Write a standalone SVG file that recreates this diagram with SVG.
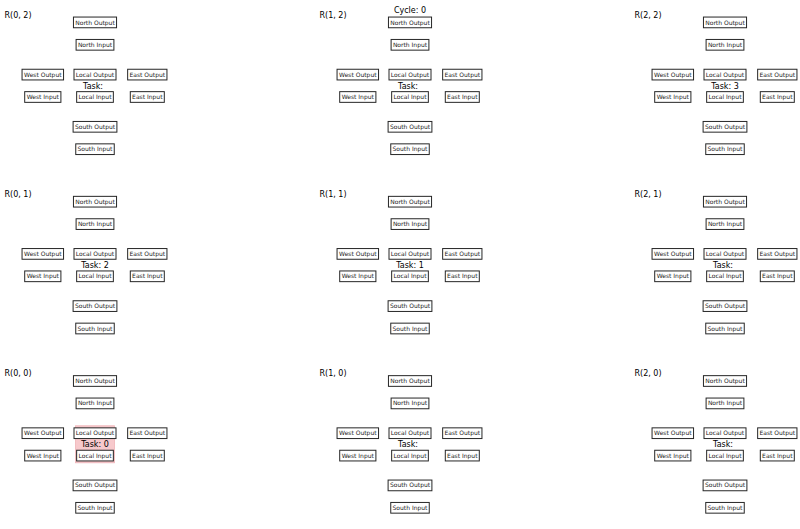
<svg xmlns="http://www.w3.org/2000/svg" width="800" height="529" viewBox="0 0 800 529">
<style>
.bg{fill:#ffffff}
.box{fill:#ffffff;stroke:#262626;stroke-width:1}
.bt{font-family:"DejaVu Sans",sans-serif;font-size:6px;fill:#1a1a1a;text-anchor:middle}
.lbl{font-family:"DejaVu Sans",sans-serif;font-size:8px;fill:#000000}
.task{font-family:"DejaVu Sans",sans-serif;font-size:8px;fill:#000000}
.tm{text-anchor:middle}
.hl{fill:#f7c9cc;stroke:#efb3b7;stroke-width:0.8}
</style>
<rect class="bg" x="0" y="0" width="800" height="529"/>
<text class="lbl tm" x="410" y="12.5">Cycle: 0</text>
<g id="connectors"/>

<g id="router-0-2" transform="translate(0,0)">
<text class="lbl" x="4.5" y="17.5">R(0, 2)</text>
<g id="r02-north-output"><rect class="box" x="73.45" y="17.05" width="43.1" height="10.7"/><text class="bt" x="95" y="24.5">North Output</text></g>
<g id="r02-north-input"><rect class="box" x="76.1" y="39.45" width="37.8" height="10.7"/><text class="bt" x="95" y="46.9">North Input</text></g>
<g id="r02-west-output"><rect class="box" x="22.05" y="69.25" width="41.5" height="10.7"/><text class="bt" x="42.8" y="76.7">West Output</text></g>
<g id="r02-local-output"><rect class="box" x="74" y="69.25" width="42" height="10.7"/><text class="bt" x="95" y="76.7">Local Output</text></g>
<g id="r02-east-output"><rect class="box" x="127.65" y="69.25" width="39.3" height="10.7"/><text class="bt" x="147.3" y="76.7">East Output</text></g>
<g id="r02-west-input"><rect class="box" x="24.7" y="91.65" width="36.2" height="10.7"/><text class="bt" x="42.8" y="99.1">West Input</text></g>
<g id="r02-local-input"><rect class="box" x="76.65" y="91.65" width="36.7" height="10.7"/><text class="bt" x="95" y="99.1">Local Input</text></g>
<g id="r02-east-input"><rect class="box" x="130.3" y="91.65" width="34" height="10.7"/><text class="bt" x="147.3" y="99.1">East Input</text></g>
<g id="r02-south-output"><rect class="box" x="73.1" y="121.45" width="43.8" height="10.7"/><text class="bt" x="95" y="128.9">South Output</text></g>
<g id="r02-south-input"><rect class="box" x="75.75" y="143.85" width="38.5" height="10.7"/><text class="bt" x="95" y="151.3">South Input</text></g>
<text class="task" x="83.1" y="88.5">Task:</text>
</g>

<g id="router-1-2" transform="translate(315,0)">
<text class="lbl" x="4.5" y="17.5">R(1, 2)</text>
<g id="r12-north-output"><rect class="box" x="73.45" y="17.05" width="43.1" height="10.7"/><text class="bt" x="95" y="24.5">North Output</text></g>
<g id="r12-north-input"><rect class="box" x="76.1" y="39.45" width="37.8" height="10.7"/><text class="bt" x="95" y="46.9">North Input</text></g>
<g id="r12-west-output"><rect class="box" x="22.05" y="69.25" width="41.5" height="10.7"/><text class="bt" x="42.8" y="76.7">West Output</text></g>
<g id="r12-local-output"><rect class="box" x="74" y="69.25" width="42" height="10.7"/><text class="bt" x="95" y="76.7">Local Output</text></g>
<g id="r12-east-output"><rect class="box" x="127.65" y="69.25" width="39.3" height="10.7"/><text class="bt" x="147.3" y="76.7">East Output</text></g>
<g id="r12-west-input"><rect class="box" x="24.7" y="91.65" width="36.2" height="10.7"/><text class="bt" x="42.8" y="99.1">West Input</text></g>
<g id="r12-local-input"><rect class="box" x="76.65" y="91.65" width="36.7" height="10.7"/><text class="bt" x="95" y="99.1">Local Input</text></g>
<g id="r12-east-input"><rect class="box" x="130.3" y="91.65" width="34" height="10.7"/><text class="bt" x="147.3" y="99.1">East Input</text></g>
<g id="r12-south-output"><rect class="box" x="73.1" y="121.45" width="43.8" height="10.7"/><text class="bt" x="95" y="128.9">South Output</text></g>
<g id="r12-south-input"><rect class="box" x="75.75" y="143.85" width="38.5" height="10.7"/><text class="bt" x="95" y="151.3">South Input</text></g>
<text class="task" x="83.1" y="88.5">Task:</text>
</g>

<g id="router-2-2" transform="translate(630,0)">
<text class="lbl" x="4.5" y="17.5">R(2, 2)</text>
<g id="r22-north-output"><rect class="box" x="73.45" y="17.05" width="43.1" height="10.7"/><text class="bt" x="95" y="24.5">North Output</text></g>
<g id="r22-north-input"><rect class="box" x="76.1" y="39.45" width="37.8" height="10.7"/><text class="bt" x="95" y="46.9">North Input</text></g>
<g id="r22-west-output"><rect class="box" x="22.05" y="69.25" width="41.5" height="10.7"/><text class="bt" x="42.8" y="76.7">West Output</text></g>
<g id="r22-local-output"><rect class="box" x="74" y="69.25" width="42" height="10.7"/><text class="bt" x="95" y="76.7">Local Output</text></g>
<g id="r22-east-output"><rect class="box" x="127.65" y="69.25" width="39.3" height="10.7"/><text class="bt" x="147.3" y="76.7">East Output</text></g>
<g id="r22-west-input"><rect class="box" x="24.7" y="91.65" width="36.2" height="10.7"/><text class="bt" x="42.8" y="99.1">West Input</text></g>
<g id="r22-local-input"><rect class="box" x="76.65" y="91.65" width="36.7" height="10.7"/><text class="bt" x="95" y="99.1">Local Input</text></g>
<g id="r22-east-input"><rect class="box" x="130.3" y="91.65" width="34" height="10.7"/><text class="bt" x="147.3" y="99.1">East Input</text></g>
<g id="r22-south-output"><rect class="box" x="73.1" y="121.45" width="43.8" height="10.7"/><text class="bt" x="95" y="128.9">South Output</text></g>
<g id="r22-south-input"><rect class="box" x="75.75" y="143.85" width="38.5" height="10.7"/><text class="bt" x="95" y="151.3">South Input</text></g>
<text class="task tm" x="95" y="88.5">Task: 3</text>
</g>

<g id="router-0-1" transform="translate(0,179.3)">
<text class="lbl" x="4.5" y="17.5">R(0, 1)</text>
<g id="r01-north-output"><rect class="box" x="73.45" y="17.05" width="43.1" height="10.7"/><text class="bt" x="95" y="24.5">North Output</text></g>
<g id="r01-north-input"><rect class="box" x="76.1" y="39.45" width="37.8" height="10.7"/><text class="bt" x="95" y="46.9">North Input</text></g>
<g id="r01-west-output"><rect class="box" x="22.05" y="69.25" width="41.5" height="10.7"/><text class="bt" x="42.8" y="76.7">West Output</text></g>
<g id="r01-local-output"><rect class="box" x="74" y="69.25" width="42" height="10.7"/><text class="bt" x="95" y="76.7">Local Output</text></g>
<g id="r01-east-output"><rect class="box" x="127.65" y="69.25" width="39.3" height="10.7"/><text class="bt" x="147.3" y="76.7">East Output</text></g>
<g id="r01-west-input"><rect class="box" x="24.7" y="91.65" width="36.2" height="10.7"/><text class="bt" x="42.8" y="99.1">West Input</text></g>
<g id="r01-local-input"><rect class="box" x="76.65" y="91.65" width="36.7" height="10.7"/><text class="bt" x="95" y="99.1">Local Input</text></g>
<g id="r01-east-input"><rect class="box" x="130.3" y="91.65" width="34" height="10.7"/><text class="bt" x="147.3" y="99.1">East Input</text></g>
<g id="r01-south-output"><rect class="box" x="73.1" y="121.45" width="43.8" height="10.7"/><text class="bt" x="95" y="128.9">South Output</text></g>
<g id="r01-south-input"><rect class="box" x="75.75" y="143.85" width="38.5" height="10.7"/><text class="bt" x="95" y="151.3">South Input</text></g>
<text class="task tm" x="95" y="88.5">Task: 2</text>
</g>

<g id="router-1-1" transform="translate(315,179.3)">
<text class="lbl" x="4.5" y="17.5">R(1, 1)</text>
<g id="r11-north-output"><rect class="box" x="73.45" y="17.05" width="43.1" height="10.7"/><text class="bt" x="95" y="24.5">North Output</text></g>
<g id="r11-north-input"><rect class="box" x="76.1" y="39.45" width="37.8" height="10.7"/><text class="bt" x="95" y="46.9">North Input</text></g>
<g id="r11-west-output"><rect class="box" x="22.05" y="69.25" width="41.5" height="10.7"/><text class="bt" x="42.8" y="76.7">West Output</text></g>
<g id="r11-local-output"><rect class="box" x="74" y="69.25" width="42" height="10.7"/><text class="bt" x="95" y="76.7">Local Output</text></g>
<g id="r11-east-output"><rect class="box" x="127.65" y="69.25" width="39.3" height="10.7"/><text class="bt" x="147.3" y="76.7">East Output</text></g>
<g id="r11-west-input"><rect class="box" x="24.7" y="91.65" width="36.2" height="10.7"/><text class="bt" x="42.8" y="99.1">West Input</text></g>
<g id="r11-local-input"><rect class="box" x="76.65" y="91.65" width="36.7" height="10.7"/><text class="bt" x="95" y="99.1">Local Input</text></g>
<g id="r11-east-input"><rect class="box" x="130.3" y="91.65" width="34" height="10.7"/><text class="bt" x="147.3" y="99.1">East Input</text></g>
<g id="r11-south-output"><rect class="box" x="73.1" y="121.45" width="43.8" height="10.7"/><text class="bt" x="95" y="128.9">South Output</text></g>
<g id="r11-south-input"><rect class="box" x="75.75" y="143.85" width="38.5" height="10.7"/><text class="bt" x="95" y="151.3">South Input</text></g>
<text class="task tm" x="95" y="88.5">Task: 1</text>
</g>

<g id="router-2-1" transform="translate(630,179.3)">
<text class="lbl" x="4.5" y="17.5">R(2, 1)</text>
<g id="r21-north-output"><rect class="box" x="73.45" y="17.05" width="43.1" height="10.7"/><text class="bt" x="95" y="24.5">North Output</text></g>
<g id="r21-north-input"><rect class="box" x="76.1" y="39.45" width="37.8" height="10.7"/><text class="bt" x="95" y="46.9">North Input</text></g>
<g id="r21-west-output"><rect class="box" x="22.05" y="69.25" width="41.5" height="10.7"/><text class="bt" x="42.8" y="76.7">West Output</text></g>
<g id="r21-local-output"><rect class="box" x="74" y="69.25" width="42" height="10.7"/><text class="bt" x="95" y="76.7">Local Output</text></g>
<g id="r21-east-output"><rect class="box" x="127.65" y="69.25" width="39.3" height="10.7"/><text class="bt" x="147.3" y="76.7">East Output</text></g>
<g id="r21-west-input"><rect class="box" x="24.7" y="91.65" width="36.2" height="10.7"/><text class="bt" x="42.8" y="99.1">West Input</text></g>
<g id="r21-local-input"><rect class="box" x="76.65" y="91.65" width="36.7" height="10.7"/><text class="bt" x="95" y="99.1">Local Input</text></g>
<g id="r21-east-input"><rect class="box" x="130.3" y="91.65" width="34" height="10.7"/><text class="bt" x="147.3" y="99.1">East Input</text></g>
<g id="r21-south-output"><rect class="box" x="73.1" y="121.45" width="43.8" height="10.7"/><text class="bt" x="95" y="128.9">South Output</text></g>
<g id="r21-south-input"><rect class="box" x="75.75" y="143.85" width="38.5" height="10.7"/><text class="bt" x="95" y="151.3">South Input</text></g>
<text class="task" x="83.1" y="88.5">Task:</text>
</g>

<g id="router-0-0" transform="translate(0,358.6)">
<text class="lbl" x="4.5" y="17.5">R(0, 0)</text>
<rect id="r00-task-highlight" class="hl" x="75.5" y="67.2" width="39" height="37"/>
<g id="r00-north-output"><rect class="box" x="73.45" y="17.05" width="43.1" height="10.7"/><text class="bt" x="95" y="24.5">North Output</text></g>
<g id="r00-north-input"><rect class="box" x="76.1" y="39.45" width="37.8" height="10.7"/><text class="bt" x="95" y="46.9">North Input</text></g>
<g id="r00-west-output"><rect class="box" x="22.05" y="69.25" width="41.5" height="10.7"/><text class="bt" x="42.8" y="76.7">West Output</text></g>
<g id="r00-local-output"><rect class="box" x="74" y="69.25" width="42" height="10.7"/><text class="bt" x="95" y="76.7">Local Output</text></g>
<g id="r00-east-output"><rect class="box" x="127.65" y="69.25" width="39.3" height="10.7"/><text class="bt" x="147.3" y="76.7">East Output</text></g>
<g id="r00-west-input"><rect class="box" x="24.7" y="91.65" width="36.2" height="10.7"/><text class="bt" x="42.8" y="99.1">West Input</text></g>
<g id="r00-local-input"><rect class="box" x="76.65" y="91.65" width="36.7" height="10.7"/><text class="bt" x="95" y="99.1">Local Input</text></g>
<g id="r00-east-input"><rect class="box" x="130.3" y="91.65" width="34" height="10.7"/><text class="bt" x="147.3" y="99.1">East Input</text></g>
<g id="r00-south-output"><rect class="box" x="73.1" y="121.45" width="43.8" height="10.7"/><text class="bt" x="95" y="128.9">South Output</text></g>
<g id="r00-south-input"><rect class="box" x="75.75" y="143.85" width="38.5" height="10.7"/><text class="bt" x="95" y="151.3">South Input</text></g>
<text class="task tm" x="95" y="88.5">Task: 0</text>
</g>

<g id="router-1-0" transform="translate(315,358.6)">
<text class="lbl" x="4.5" y="17.5">R(1, 0)</text>
<g id="r10-north-output"><rect class="box" x="73.45" y="17.05" width="43.1" height="10.7"/><text class="bt" x="95" y="24.5">North Output</text></g>
<g id="r10-north-input"><rect class="box" x="76.1" y="39.45" width="37.8" height="10.7"/><text class="bt" x="95" y="46.9">North Input</text></g>
<g id="r10-west-output"><rect class="box" x="22.05" y="69.25" width="41.5" height="10.7"/><text class="bt" x="42.8" y="76.7">West Output</text></g>
<g id="r10-local-output"><rect class="box" x="74" y="69.25" width="42" height="10.7"/><text class="bt" x="95" y="76.7">Local Output</text></g>
<g id="r10-east-output"><rect class="box" x="127.65" y="69.25" width="39.3" height="10.7"/><text class="bt" x="147.3" y="76.7">East Output</text></g>
<g id="r10-west-input"><rect class="box" x="24.7" y="91.65" width="36.2" height="10.7"/><text class="bt" x="42.8" y="99.1">West Input</text></g>
<g id="r10-local-input"><rect class="box" x="76.65" y="91.65" width="36.7" height="10.7"/><text class="bt" x="95" y="99.1">Local Input</text></g>
<g id="r10-east-input"><rect class="box" x="130.3" y="91.65" width="34" height="10.7"/><text class="bt" x="147.3" y="99.1">East Input</text></g>
<g id="r10-south-output"><rect class="box" x="73.1" y="121.45" width="43.8" height="10.7"/><text class="bt" x="95" y="128.9">South Output</text></g>
<g id="r10-south-input"><rect class="box" x="75.75" y="143.85" width="38.5" height="10.7"/><text class="bt" x="95" y="151.3">South Input</text></g>
<text class="task" x="83.1" y="88.5">Task:</text>
</g>

<g id="router-2-0" transform="translate(630,358.6)">
<text class="lbl" x="4.5" y="17.5">R(2, 0)</text>
<g id="r20-north-output"><rect class="box" x="73.45" y="17.05" width="43.1" height="10.7"/><text class="bt" x="95" y="24.5">North Output</text></g>
<g id="r20-north-input"><rect class="box" x="76.1" y="39.45" width="37.8" height="10.7"/><text class="bt" x="95" y="46.9">North Input</text></g>
<g id="r20-west-output"><rect class="box" x="22.05" y="69.25" width="41.5" height="10.7"/><text class="bt" x="42.8" y="76.7">West Output</text></g>
<g id="r20-local-output"><rect class="box" x="74" y="69.25" width="42" height="10.7"/><text class="bt" x="95" y="76.7">Local Output</text></g>
<g id="r20-east-output"><rect class="box" x="127.65" y="69.25" width="39.3" height="10.7"/><text class="bt" x="147.3" y="76.7">East Output</text></g>
<g id="r20-west-input"><rect class="box" x="24.7" y="91.65" width="36.2" height="10.7"/><text class="bt" x="42.8" y="99.1">West Input</text></g>
<g id="r20-local-input"><rect class="box" x="76.65" y="91.65" width="36.7" height="10.7"/><text class="bt" x="95" y="99.1">Local Input</text></g>
<g id="r20-east-input"><rect class="box" x="130.3" y="91.65" width="34" height="10.7"/><text class="bt" x="147.3" y="99.1">East Input</text></g>
<g id="r20-south-output"><rect class="box" x="73.1" y="121.45" width="43.8" height="10.7"/><text class="bt" x="95" y="128.9">South Output</text></g>
<g id="r20-south-input"><rect class="box" x="75.75" y="143.85" width="38.5" height="10.7"/><text class="bt" x="95" y="151.3">South Input</text></g>
<text class="task" x="83.1" y="88.5">Task:</text>
</g>
</svg>
